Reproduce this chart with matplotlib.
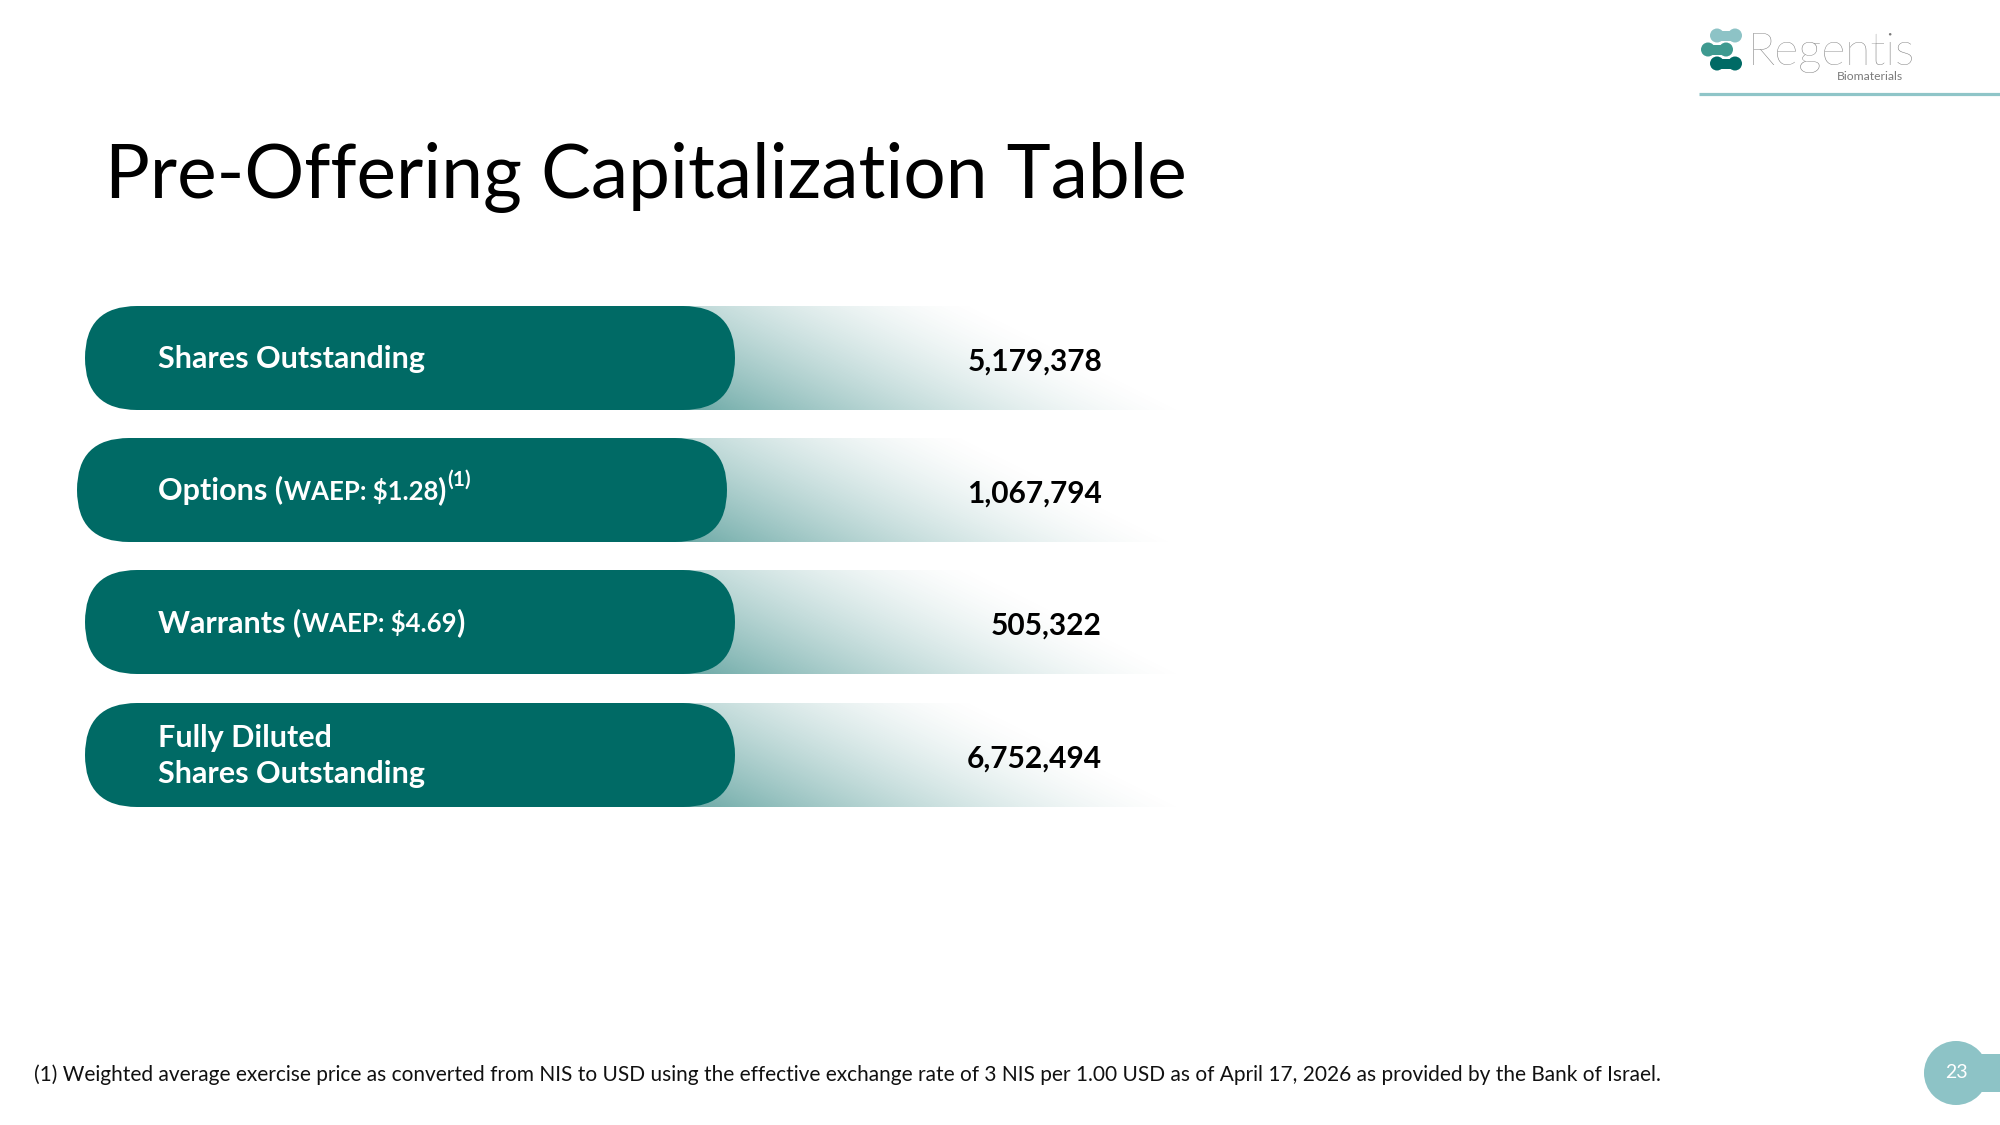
import numpy as np
import matplotlib
matplotlib.use("Agg")
import matplotlib.pyplot as plt
from matplotlib.patches import FancyBboxPatch, Circle, Rectangle
from matplotlib.colors import to_rgb

# ---------------- data ----------------
title = "Pre-Offering Capitalization Table"
labels = ["Shares Outstanding", "Options", "Warrants", "Fully Diluted\nShares Outstanding"]
waep = [None, "$1.28", "$4.69", None]
note_refs = [None, "(1)", None, None]
values = [5179378, 1067794, 505322, 6752494]
footnote = ("(1) Weighted average exercise price as converted from NIS to USD using the effective "
            "exchange rate of 3 NIS per 1.00 USD as of April 17, 2026 as provided by the Bank of Israel.")
page_number = "23"
brand = "Regentis"
brand_sub = "Biomaterials"

# ---------------- layout / style ----------------
W, H = 2000, 1125
FONT = "Lato"
TEAL = "#006A65"
LIGHT = "#8DC3C6"
MID = "#3E9A90"
GRAY = "#7A7A7A"

fig = plt.figure(figsize=(20, 11.25), dpi=100)
ax = fig.add_axes([0, 0, 1, 1])
ax.set_xlim(0, W)
ax.set_ylim(H, 0)
ax.axis("off")
renderer = fig.canvas.get_renderer()


def fit_width(t, width):
    bb = t.get_window_extent(renderer)
    t.set_fontsize(t.get_fontsize() * width / bb.width)
    return t


# title
t = ax.text(105, 198, title, fontsize=50, family=FONT, color="#000000", va="baseline", ha="left")
fit_width(t, 1081)

# rows
row_tops = [306, 438, 570, 703]
row_h = 104
pill_x = [85, 77, 85, 85]
pill_w = 650
grad_x0, grad_x1 = 556, 1210
teal_rgb = np.array(to_rgb(TEAL))

nx, ny = 400, 80
gx = np.linspace(grad_x0, grad_x1, nx)
gv = np.linspace(0, 1, ny)
GX, GV = np.meshgrid(gx, gv)

MAIN_FS = 22
SMALL_FS = 18.5
SUP_FS = 15
VAL_FS = 21.5

for i, (lab, wp, ref, val) in enumerate(zip(labels, waep, note_refs, values)):
    top = row_tops[i]
    cy = top + row_h / 2
    pr = pill_x[i] + pill_w  # right end of pill
    # gradient band
    d = (GX - pr) / 460.0 + (1 - GV) * 0.45
    alpha = 0.5 * np.clip(1 - d, 0, 1.25) ** 1.5
    alpha = np.clip(alpha, 0, 0.75)
    img = np.zeros((ny, nx, 4))
    img[..., :3] = teal_rgb
    img[..., 3] = alpha
    ax.imshow(img, extent=(grad_x0, grad_x1, top + row_h, top), origin="upper",
              interpolation="bilinear", aspect="auto", zorder=1)
    # pill
    ax.add_patch(FancyBboxPatch((pill_x[i], top), pill_w, row_h,
                                boxstyle=f"round,pad=0,rounding_size={row_h/2}",
                                fc=TEAL, ec="none", zorder=2))
    # label
    lx = 158
    if "\n" in lab:
        lines = lab.split("\n")
        for k, ln in enumerate(lines):
            ax.text(lx, cy - 8 + k * 36, ln, fontsize=MAIN_FS, family=FONT, weight="bold",
                    color="white", va="baseline", ha="left", zorder=3)
    else:
        base = cy + 10
        pieces = [(lab + (" (" if wp else ""), MAIN_FS, 0, 1)]
        if wp:
            pieces.append(("WAEP: " + wp, SMALL_FS, 0, -1))
            pieces.append((")", MAIN_FS, 0, 1))
        if ref:
            pieces.append((ref, SUP_FS, -14, 0))
        x = lx
        for s, fs, dy, gap in pieces:
            tt = ax.text(x, base + dy, s, fontsize=fs, family=FONT, weight="bold",
                         color="white", va="baseline", ha="left", zorder=3)
            x = tt.get_window_extent(renderer).x1 + gap
    # value
    ax.text(1102, cy + 13, f"{val:,}", fontsize=VAL_FS, family=FONT, weight="bold",
            color="#000000", va="baseline", ha="right", zorder=3)

# footnote
t = ax.text(34, 1075, footnote, fontsize=14, family=FONT, color="#111111", va="center", ha="left")
fit_width(t, 1629)

# page number blob
ax.add_patch(Circle((1956, 1073), 32, fc=LIGHT, ec="none"))
ax.add_patch(Rectangle((1956, 1054), 50, 38, fc=LIGHT, ec="none"))
ax.text(1956, 1073, page_number, fontsize=14, family=FONT, color="white", ha="center", va="center")

# logo
blob_specs = [(1710, 35.5, LIGHT), (1701, 49.5, MID), (1710, 63.5, TEAL)]
for bx, by, col in blob_specs:
    ax.add_patch(Circle((bx + 7, by), 7, fc=col, ec="none"))
    ax.add_patch(Circle((bx + 25, by), 7, fc=col, ec="none"))
    ax.add_patch(Rectangle((bx + 7, by - 5), 18, 10, fc=col, ec="none"))
t = ax.text(1748, 65, brand, fontsize=30, family=FONT, weight="light", color=GRAY,
            va="baseline", ha="left")
fit_width(t, 167)
t = ax.text(1837, 77, brand_sub, fontsize=7, family=FONT, color=GRAY, va="center", ha="left")
fit_width(t, 66)
ax.plot([1699, 2000], [94, 94], color="#8FC5C8", lw=2.3, solid_capstyle="butt")

ax.set_xlim(0, W)
ax.set_ylim(H, 0)
fig.savefig("out.png", dpi=100, facecolor="white")
